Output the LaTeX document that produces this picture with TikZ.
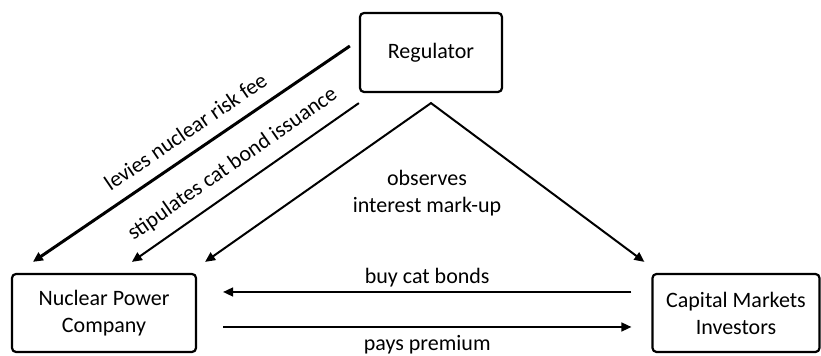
\documentclass[tikz,border=0pt]{standalone}
\usepackage{fontspec}
\setmainfont{Carlito}
\usetikzlibrary{arrows.meta}

\begin{document}
\begin{tikzpicture}[x=0.5pt, y=-0.5pt, >={Triangle[length=5pt,width=4.5pt]},
	font=\fontsize{11}{13.5}\selectfont,
	box/.style={draw, line width=1.1pt, rounded corners=2pt, align=center, inner sep=0pt}]
 \useasboundingbox (0,0) rectangle (821,356);

 \node (reg) [box, minimum width=71pt, minimum height=39.5pt] at (431,52.5) {Regulator};
 \node (npc) [box, minimum width=92pt, minimum height=39pt] at (104,313) {Nuclear Power\\Company};
 \node (cmi) [box, minimum width=83.5pt, minimum height=39pt] at (736,313) {Capital Markets\\Investors};

 % regulator to company
 \path [->, line width=1.5pt] ([xshift=-4.5pt, yshift=3.25pt]reg.west) edge node[sloped, above=3pt, pos=0.48] {levies nuclear risk fee} ([xshift=11pt, yshift=5.5pt]npc.north west);
 \path [->, line width=1pt] ([yshift=-5pt]reg.south west) edge node[sloped, above=2.5pt] {stipulates cat bond issuance} ([xshift=60.5pt, yshift=5.5pt]npc.north west);
 \draw [<->, line width=1pt] ([xshift=4pt, yshift=5.5pt]npc.north east) -- ([yshift=-5pt]reg.south) node[below=29.5pt, xshift=-2pt, align=center] {observes\\interest mark-up} -- ([xshift=-3.5pt, yshift=5.5pt]cmi.north west);

 % company and investors
 \path [->, line width=0.8pt] ([xshift=-10pt, yshift=10.5pt]cmi.west) edge node[above=-1.5pt] {buy cat bonds} ([xshift=13pt, yshift=10.5pt]npc.east);
 \path [->, line width=0.8pt] ([xshift=13pt, yshift=-7pt]npc.east) edge node[below=0.5pt] {pays premium} ([xshift=-10pt, yshift=-7pt]cmi.west);
\end{tikzpicture}
\end{document}
